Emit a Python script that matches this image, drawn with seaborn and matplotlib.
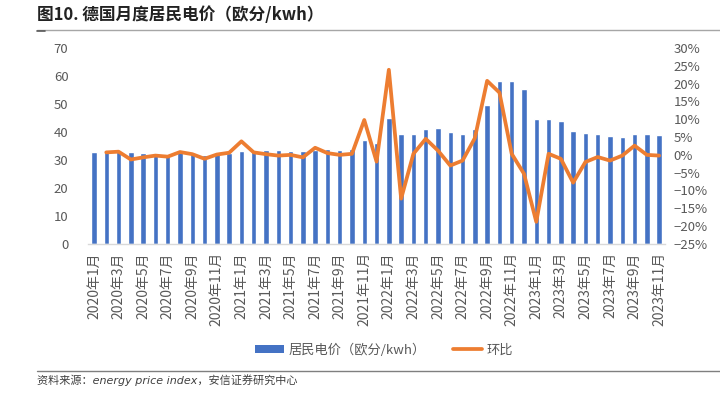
import numpy as np
import pandas as pd
import matplotlib
matplotlib.use("Agg")
import matplotlib.pyplot as plt
from matplotlib.lines import Line2D
from matplotlib.patches import Patch
import seaborn as sns

months = [f"{y}年{m}月" for y in range(2020, 2024) for m in range(1, 13)][:47]
price = [33.0, 33.1, 33.5, 32.7, 32.5, 32.3, 32.0, 32.7, 32.4, 31.8, 32.1, 32.6,
         33.2, 33.3, 33.5, 33.5, 33.3, 33.1, 33.5, 33.9, 33.6, 33.8, 37.1, 36.2,
         44.9, 39.3, 39.3, 41.0, 41.4, 40.0, 39.3, 41.2, 49.6, 58.2, 58.3, 55.2,
         44.5, 44.6, 44.0, 40.5, 39.5, 39.2, 38.6, 38.3, 39.3, 39.3, 39.0]
mom = [None, 0.7, 0.9, -1.3, -0.7, -0.2, -0.5, 0.8, 0.2, -1.1, 0.1, 0.6,
       3.8, 0.7, 0.2, -0.2, 0.0, -0.7, 2.0, 0.5, 0.0, 0.3, 9.8, -1.9,
       23.9, -12.3, 0.3, 4.5, 1.2, -3.0, -1.6, 4.7, 20.8, 17.5, 0.3, -5.3,
       -18.8, 0.3, -1.1, -7.8, -2.0, -0.6, -1.6, -0.2, 2.6, 0.0, -0.2]
bar_label = "居民电价（欧分/kwh）"
line_label = "环比"

sns.set_theme(style="white")
plt.rcParams['font.family'] = ['Noto Sans CJK SC', 'DejaVu Sans']

df = pd.DataFrame({"month": months, "price": price, "mom": mom, "idx": range(len(months))})

fig = plt.figure(figsize=(7.2, 3.94), dpi=100)
ax = fig.add_axes([0.122, 0.381, 0.802, 0.497])
blue = "#4472C4"
orange = "#ED7D31"
gray = "#595959"

sns.barplot(data=df, x="idx", y="price", color=blue, width=0.44, ax=ax,
            saturation=1, native_scale=False)
ax.set_xlim(-0.5, len(months) - 0.5)
ax.set_ylim(0, 70)
ax.set_yticks(range(0, 71, 10))
ax.set_xlabel("")
ax.set_ylabel("")
ax.set_xticks(range(0, len(months), 2))
ax.set_xticklabels(months[::2], rotation=90, fontsize=10, color=gray)
ax.tick_params(axis='y', labelsize=9.5, colors=gray, length=0, pad=14)
ax.tick_params(axis='x', length=0, pad=6)
for s in ["top", "right", "left"]:
    ax.spines[s].set_visible(False)
ax.spines["bottom"].set_color("#D9D9D9")
ax.spines["bottom"].set_linewidth(1.0)

ax2 = ax.twinx()
dl = df.dropna(subset=["mom"])
sns.lineplot(data=dl, x="idx", y="mom", color=orange, linewidth=2.7, ax=ax2)
ax2.set_ylim(-25, 30)
ax2.set_yticks(range(-25, 31, 5))
ax2.set_yticklabels([f"{v}%".replace("-", "\u2212") for v in range(-25, 31, 5)])
ax2.set_ylabel("")
ax2.tick_params(axis='y', labelsize=9.5, colors=gray, length=0, pad=6)
for s in ["top", "right", "left", "bottom"]:
    ax2.spines[s].set_visible(False)
ax2.set_xlim(-0.5, len(months) - 0.5)

# Title
fig.text(37 / 720, 1 - 15 / 394, "图10. 德国月度居民电价（欧分/kwh）", fontsize=12, fontweight="bold",
         color="#222222", va="center", ha="left")
fig.add_artist(Line2D([37 / 720, 1.0], [1 - 29.5 / 394] * 2, color="#A6A6A6", lw=1.0))
fig.add_artist(Line2D([37 / 720, 45 / 720], [1 - 31 / 394] * 2, color="#595959", lw=1.2))

# Legend
handles = [Patch(facecolor=blue, edgecolor="none"), Line2D([0], [0], color=orange, lw=2.7)]
fig.legend(handles, [bar_label, line_label], loc="center", bbox_to_anchor=(384 / 720, 1 - 350 / 394),
           ncol=2, frameon=False, fontsize=9.5, handlelength=2.2, handleheight=0.5,
           columnspacing=2.0, handletextpad=0.4, labelcolor=gray)

# Source
fig.add_artist(Line2D([37 / 720, 1.0], [1 - 370.5 / 394] * 2, color="#7F7F7F", lw=1.0))
fig.text(37 / 720, 1 - 380 / 394, "资料来源：energy price index，安信证券研究中心", fontsize=8,
         style="italic", family=['DejaVu Sans', 'Noto Sans CJK SC'], color="#404040",
         va="center", ha="left")

fig.savefig("out.png", dpi=100)
